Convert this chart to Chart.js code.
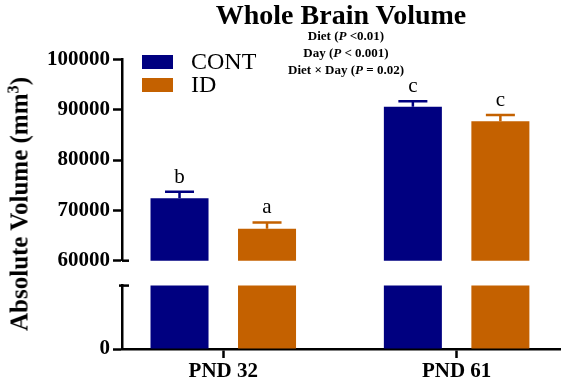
<!DOCTYPE html>
<html>
<head>
<meta charset="utf-8">
<script src="https://cdn.jsdelivr.net/npm/chart.js@4/dist/chart.umd.min.js"></script>
<style>
  html, body { margin: 0; padding: 0; background: #fff; }
  #wrap { position: relative; width: 562px; height: 384px; overflow: hidden;
          font-family: "Liberation Serif", "Times New Roman", serif; color: #000; }
  canvas { position: absolute; left: 0; }
  #upper { top: 0; }
  #lower { top: 270px; }
  .title { position: absolute; left: 341px; top: 1px; transform: translateX(-50%);
           font-size: 28px; font-weight: bold; line-height: 28px; white-space: nowrap; }
  .stats { position: absolute; left: 346px; top: 27px; transform: translateX(-50%);
           font-size: 13px; font-weight: bold; line-height: 17px; text-align: center; white-space: nowrap; }
  .ytitle { position: absolute; left: 19px; top: 204px; transform: translate(-50%, -50%) rotate(-90deg);
            font-size: 25px; font-weight: bold; line-height: 25px; white-space: nowrap; }
  .ytitle sup { font-size: 0.65em; line-height: 0; }
  .legend { position: absolute; left: 142px; top: 50px; font-size: 24px; line-height: 23px; }
  .legend div { display: flex; align-items: center; height: 23px; }
  .legend span.box { display: inline-block; width: 31px; height: 14px; margin-right: 18px; }
</style>
</head>
<body>
<div id="wrap">
  <canvas id="upper" width="562" height="290"></canvas>
  <canvas id="lower" width="562" height="114"></canvas>
  <div class="title">Whole Brain Volume</div>
  <div class="stats">Diet (<i>P</i> &lt;0.01)<br>Day (<i>P</i> &lt; 0.001)<br>Diet × Day (<i>P</i> = 0.02)</div>
  <div class="ytitle">Absolute Volume (mm<sup>3</sup>)</div>
  <div class="legend" id="legend"></div>
</div>
<script>
var categories = ["PND 32", "PND 61"];
var seriesNames = ["CONT", "ID"];
var contValues = [72400, 90600];
var idValues = [66350, 87700];
var contErrors = [1300, 1050];
var idErrors = [1250, 1250];
var contLetters = ["b", "c"];
var idLetters = ["a", "c"];
var upperTicks = [60000, 70000, 80000, 90000, 100000];
var lowerTicks = [0];

var navy = 'rgb(0, 0, 128)';
var orange = 'rgb(196, 97, 0)';
var serif = '"Liberation Serif", "Times New Roman", serif';

Chart.defaults.font.family = serif;
Chart.defaults.color = '#000';

// legend (html)
var legend = document.getElementById('legend');
[navy, orange].forEach(function(c, i) {
    var row = document.createElement('div');
    row.innerHTML = '<span class="box" style="background:' + c + '"></span>' + seriesNames[i];
    legend.appendChild(row);
});

function points(values) {
    return values.map(function(v, i) { return { x: i + 1, y: v }; });
}

function makeDatasets() {
    return [
        { label: seriesNames[0], data: points(contValues), backgroundColor: navy,
          errors: contErrors, letters: contLetters, categoryPercentage: 0.75, barPercentage: 0.663 },
        { label: seriesNames[1], data: points(idValues), backgroundColor: orange,
          errors: idErrors, letters: idLetters, categoryPercentage: 0.75, barPercentage: 0.663 }
    ];
}

function xScale(show) {
    return {
        type: 'linear',
        display: show,
        offset: false,
        min: 0.566,
        max: 2.443,
        afterBuildTicks: function(scale) {
            scale.ticks = categories.map(function(c, i) { return { value: i + 1 }; });
        },
        afterFit: function(scale) { if (show) scale.height = 35; },
        ticks: {
            callback: function(v) { return categories[v - 1]; },
            font: { size: 21, weight: 'bold' },
            padding: 1,
            maxRotation: 0
        },
        grid: { offset: false, drawOnChartArea: false, tickLength: 9, tickColor: '#000', tickWidth: 2.5 },
        border: { color: '#000', width: 2.5 }
    };
}

function yScale(min, max, tickList) {
    return {
        min: min,
        max: max,
        afterBuildTicks: function(scale) {
            scale.ticks = tickList.map(function(v) { return { value: v }; });
        },
        afterFit: function(scale) { scale.width = 122; },
        ticks: { font: { size: 21, weight: 'bold' }, padding: 3, callback: function(v) { return String(v); } },
        grid: { drawOnChartArea: false, tickLength: 9, tickColor: '#000', tickWidth: 2.5 },
        border: { color: '#000', width: 2.5 }
    };
}

// error bars + significance letters
var errorBars = {
    id: 'errorBars',
    afterDatasetsDraw: function(chart) {
        var ctx = chart.ctx, y = chart.scales.y;
        chart.data.datasets.forEach(function(ds, i) {
            chart.getDatasetMeta(i).data.forEach(function(bar, j) {
                var top = y.getPixelForValue(ds.data[j].y + ds.errors[j]);
                ctx.save();
                ctx.strokeStyle = ds.backgroundColor;
                ctx.lineWidth = 2.5;
                ctx.beginPath();
                ctx.moveTo(bar.x, bar.y);
                ctx.lineTo(bar.x, top);
                ctx.moveTo(bar.x - bar.width / 4, top);
                ctx.lineTo(bar.x + bar.width / 4, top);
                ctx.stroke();
                ctx.fillStyle = '#000';
                ctx.font = '21px ' + serif;
                ctx.textAlign = 'center';
                ctx.textBaseline = 'alphabetic';
                ctx.fillText(ds.letters[j], bar.x, top - 9);
                ctx.restore();
            });
        });
    }
};

// little marks where the axis is broken
function breakMark(atTop) {
    return {
        id: 'breakMark',
        afterDraw: function(chart) {
            var ctx = chart.ctx, a = chart.chartArea;
            var yy = atTop ? a.top : a.bottom;
            ctx.save();
            ctx.strokeStyle = '#000';
            ctx.lineWidth = 2.5;
            ctx.beginPath();
            ctx.moveTo(a.left - (atTop ? 3 : 0), yy);
            ctx.lineTo(a.left + 7, yy);
            ctx.stroke();
            ctx.restore();
        }
    };
}

new Chart(document.getElementById('upper'), {
    type: 'bar',
    data: { datasets: makeDatasets() },
    options: {
        responsive: false,
        animation: false,
        layout: { padding: { top: 59.3, bottom: 29.3, left: 0, right: 2 } },
        plugins: { legend: { display: false }, tooltip: { enabled: false } },
        scales: { x: xScale(false), y: yScale(60000, 100000, upperTicks) }
    },
    plugins: [errorBars, breakMark(false)]
});

new Chart(document.getElementById('lower'), {
    type: 'bar',
    data: { datasets: makeDatasets() },
    options: {
        responsive: false,
        animation: false,
        layout: { padding: { top: 13, bottom: 0, left: 0, right: 2 } },
        plugins: { legend: { display: false }, tooltip: { enabled: false } },
        scales: { x: xScale(true), y: yScale(0, 13200, lowerTicks) }
    },
    plugins: [breakMark(true)]
});
</script>
</body>
</html>
